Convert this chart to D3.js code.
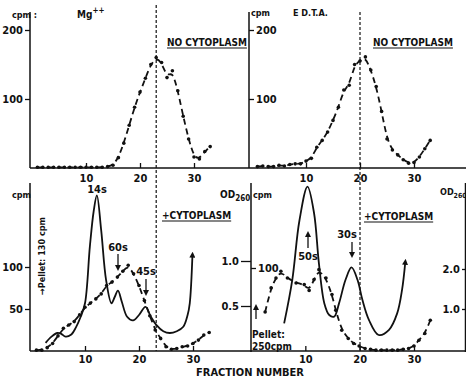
<!DOCTYPE html>
<html>
<head>
<meta charset="utf-8">
<script src="https://cdn.jsdelivr.net/npm/d3@7"></script>
<style>
  body { margin: 0; background: #fff; }
  svg text { font-family: "Liberation Sans Narrow", "Arial Narrow", "DejaVu Sans Condensed", sans-serif; font-weight: bold; fill: #111; }
</style>
</head>
<body>
<svg id="chart" width="466" height="378"></svg>
<script>
// ---- data ----
// top left: Mg++, no cytoplasm (cpm)
var mgFrac = [1,2,3,4,5,6,7,8,9,10,11,12,13,14,15,16,17,18,19,20,21,22,23,24,25,26,27,28,29,30,31,32,33];
var mgCpm  = [1,1,1,1,1,1,1,1,1,1,1,1,1,2,4,15,36,62,88,110,130,150,160,153,131,141,112,75,42,16,13,24,31];

// top right: EDTA, no cytoplasm (cpm)
var edFrac = [1,2,3,4,5,6,7,8,9,10,11,12,13,14,15,16,17,18,19,20,21,22,23,24,25,26,27,28,29,30,31,32,33];
var edCpm  = [2,3,2,2,4,3,5,6,6,10,14,30,40,52,69,88,113,120,150,155,161,142,118,82,42,26,19,12,7,8,16,28,40];

// bottom left: Mg++ + cytoplasm, cpm (dashed) and OD260 (solid)
var mgcFrac = [1,2,3,4,5,6,7,8,9,10,11,12,13,14,15,16,17,18,19,20,21,22,23,24,25,26,27,28,29,30,31,32,33];
var mgcCpm  = [1,1,4,9,18,27,31,35,43,52,57,62,68,78,82,88,95,102,92,78,60,42,25,15,5,2,3,5,6,9,13,19,22];
var mgcOdFrac = [2.7,3.8,4.9,5.6,6.4,7.4,8.3,9.2,10,10.9,11.6,12.2,13,13.9,14.9,15.5,16.1,16.8,17.8,18.9,20,21.2,22.2,23.2,24.5,25.7,27,28.2,29,29.4,29.9];
var mgcOd     = [0.09,0.16,0.2,0.19,0.16,0.18,0.26,0.38,0.53,1.16,1.55,1.73,1.34,0.79,0.53,0.6,0.67,0.55,0.38,0.34,0.4,0.49,0.38,0.29,0.22,0.2,0.22,0.27,0.4,0.53,1.07];

// bottom right: EDTA + cytoplasm, cpm (dashed) and OD260 (solid)
var edcFrac = [2.6,3.7,4.6,5.5,6.7,8.3,9.8,10.7,11.6,12.5,13.8,14.9,15.6,16.7,17.9,18.9,19.9,21,22,23,24,25,26,27,28,29,30,30.9,32,33];
var edcCpm  = [47,76,88,96,88,82,80,73,86,98,88,68,49,25,15,9,6,3,2,1,1,1,1,1,2,3,6,13,21,37];
var edcOdFrac = [6.1,7.6,8.9,10.4,11.6,12.5,13.5,14.4,15.3,16.2,17.4,18.5,19.6,20.5,21.7,23.5,25.4,26.9,27.8,28.4];
var edcOd     = [0.64,1.73,3.2,4.06,3.4,2.14,1.14,0.85,0.81,1.14,1.73,2.04,1.73,1.23,0.73,0.35,0.48,0.89,1.48,2.18];

var xTicks = [10,20,30];

// ---- drawing ----
var svg = d3.select("#chart");
svg.append("rect").attr("width", 466).attr("height", 378).attr("fill", "#fff");

svg.append("defs").append("marker")
  .attr("id", "arr").attr("viewBox", "0 0 8 8")
  .attr("refX", 4).attr("refY", 4)
  .attr("markerWidth", 6).attr("markerHeight", 6)
  .attr("markerUnits", "userSpaceOnUse")
  .attr("orient", "auto")
  .append("path").attr("d", "M0,0 L8,4 L0,8 z").attr("fill", "#111");

var xTL = d3.scaleLinear().domain([0, 30]).range([32, 194]);
var xTR = d3.scaleLinear().domain([0, 30]).range([252, 414]);
var xBL = d3.scaleLinear().domain([0, 30]).range([31, 193]);
var xBR = d3.scaleLinear().domain([0, 30]).range([251, 414]);
var yTop = d3.scaleLinear().domain([0, 200]).range([168, 30]);
var yBLc = d3.scaleLinear().domain([0, 100]).range([351, 267]);
var yBLo = d3.scaleLinear().domain([0, 1]).range([351, 261]);
var yBRc = d3.scaleLinear().domain([0, 100]).range([351, 268]);
var yBRo = d3.scaleLinear().domain([0, 2]).range([349, 269]);

var ink = "#111";

function styleAxis(g, fs) {
  g.select(".domain").remove();
  g.selectAll("line").attr("stroke", ink).attr("stroke-width", 1.3);
  g.selectAll("text").style("font-size", fs + "px").attr("fill", ink);
}

// axis lines
function vline(x, y1, y2) {
  svg.append("line").attr("x1", x).attr("x2", x).attr("y1", y1).attr("y2", y2)
    .attr("stroke", ink).attr("stroke-width", 1.5);
}
function hline(y, x1, x2) {
  svg.append("line").attr("x1", x1).attr("x2", x2).attr("y1", y).attr("y2", y)
    .attr("stroke", ink).attr("stroke-width", 1.6);
}
vline(30, 12, 168);
vline(249, 12, 168);
vline(30, 183, 351);
vline(251, 183, 352);
vline(465.5, 183, 352);
hline(168, 30, 466);
hline(351, 30, 466);

// x axes
[[xTL, 168, 6], [xTR, 168, 6], [xBL, 351, 4], [xBR, 351, 4]].forEach(function (a) {
  var g = svg.append("g").attr("transform", "translate(0," + a[1] + ")")
    .call(d3.axisBottom(a[0]).tickValues(xTicks).tickSize(-5).tickPadding(a[2]));
  styleAxis(g, 11);
});

// y axes
var g;
g = svg.append("g").attr("transform", "translate(30,0)")
  .call(d3.axisLeft(yTop).tickValues([100, 200]).tickSize(5).tickPadding(2));
styleAxis(g, 11);
g = svg.append("g").attr("transform", "translate(249,0)")
  .call(d3.axisRight(yTop).tickValues([100, 200]).tickSize(5).tickPadding(2));
styleAxis(g, 11);
g = svg.append("g").attr("transform", "translate(30,0)")
  .call(d3.axisLeft(yBLc).tickValues([50, 100]).tickSize(5).tickPadding(2));
styleAxis(g, 11);
g = svg.append("g").attr("transform", "translate(251,0)")
  .call(d3.axisLeft(yBLo).tickValues([0.5, 1.0]).tickFormat(d3.format(".1f")).tickSize(10).tickPadding(2));
styleAxis(g, 11);
g = svg.append("g").attr("transform", "translate(251,0)")
  .call(d3.axisRight(yBRc).tickValues([100]).tickSize(5).tickPadding(2));
styleAxis(g, 11);
g = svg.append("g").attr("transform", "translate(466,0)")
  .call(d3.axisLeft(yBRo).tickValues([1.0, 2.0]).tickFormat(d3.format(".1f")).tickSize(4).tickPadding(2));
styleAxis(g, 11);

// vertical dashed markers
svg.append("line").attr("x1", xTL(23)).attr("x2", xTL(23)).attr("y1", 5).attr("y2", 351)
  .attr("stroke", ink).attr("stroke-width", 1.2).attr("stroke-dasharray", "3,2");
svg.append("line").attr("x1", xTR(20)).attr("x2", xTR(20)).attr("y1", 12).attr("y2", 351)
  .attr("stroke", ink).attr("stroke-width", 1.2).attr("stroke-dasharray", "3,2");

// curves: dashed cpm curves are smoothed fits, solid OD traces pass through the points
function curve(xs, ys, sx, sy, dashed, arrow) {
  var pts = xs.map(function (f, i) { return [f, ys[i]]; });
  var line = d3.line()
    .x(function (d) { return sx(d[0]); })
    .y(function (d) { return sy(d[1]); })
    .curve(dashed ? d3.curveBasis : d3.curveCatmullRom.alpha(0.5));
  var p = svg.append("path").datum(pts).attr("d", line)
    .attr("fill", "none").attr("stroke", ink).attr("stroke-width", 1.8);
  if (dashed) p.attr("stroke-dasharray", "6,4");
  if (arrow) p.attr("marker-end", "url(#arr)");
  return pts;
}
function dots(pts, sx, sy) {
  svg.append("g").selectAll("circle").data(pts).enter().append("circle")
    .attr("cx", function (d) { return sx(d[0]); })
    .attr("cy", function (d) { return sy(d[1]); })
    .attr("r", 1.8).attr("fill", ink);
}

dots(curve(mgFrac, mgCpm, xTL, yTop, true), xTL, yTop);
dots(curve(edFrac, edCpm, xTR, yTop, true), xTR, yTop);
dots(curve(mgcFrac, mgcCpm, xBL, yBLc, true), xBL, yBLc);
curve(mgcOdFrac, mgcOd, xBL, yBLo, false, true);
dots(curve(edcFrac, edcCpm, xBR, yBRc, true), xBR, yBRc);
curve(edcOdFrac, edcOd, xBR, yBRo, false, true);

// text
function label(x, y, txt, fs, anchor) {
  return svg.append("text").attr("x", x).attr("y", y)
    .attr("text-anchor", anchor || "start").style("font-size", fs + "px").text(txt);
}
function underlined(x, y, txt, fs) {
  var t = label(x, y, txt, fs);
  var w = t.node().getComputedTextLength();
  svg.append("line").attr("x1", x).attr("x2", x + w).attr("y1", y + 2).attr("y2", y + 2)
    .attr("stroke", ink).attr("stroke-width", 1.2);
}
function arrowV(x, y1, y2) {
  svg.append("line").attr("x1", x).attr("x2", x).attr("y1", y1).attr("y2", y2)
    .attr("stroke", ink).attr("stroke-width", 1.3).attr("marker-end", "url(#arr)");
}

label(12, 18, "cpm :", 9);
var mg = label(77, 18, "Mg", 10);
mg.append("tspan").attr("dy", -5).style("font-size", "8px").text("++");
underlined(167, 46, "NO CYTOPLASM", 10);

label(251, 16, "cpm", 9);
label(293, 16, "E D.T.A.", 9);
underlined(373, 46, "NO CYTOPLASM", 10);

label(12, 198, "cpm", 9);
label(97, 193, "14s", 11, "middle");
label(118, 251, "60s", 11, "middle");
arrowV(118, 254, 268);
label(146, 275, "45s", 11, "middle");
arrowV(146, 279, 293);
underlined(162, 219, "+CYTOPLASM", 10);
label(0, 0, "\u2192Pellet: 130 cpm", 9)
  .attr("transform", "translate(45,295) rotate(-90)");

var od1 = label(220, 198, "OD", 10);
od1.append("tspan").attr("dy", 3).style("font-size", "8px").text("260");
label(253, 198, "cpm", 9);
var od2 = label(440, 195, "OD", 9);
od2.append("tspan").attr("dy", 3).style("font-size", "7px").text("260");

label(347, 238, "30s", 11, "middle");
arrowV(352, 242, 255);
arrowV(308, 248, 234);
label(308, 260, "50s", 11, "middle");
underlined(364, 220, "+CYTOPLASM", 10);
arrowV(256, 319, 307);
label(252, 338, "Pellet:", 10);
label(252, 350, "250cpm", 10);

label(250, 376, "FRACTION NUMBER", 11, "middle");
</script>
</body>
</html>
